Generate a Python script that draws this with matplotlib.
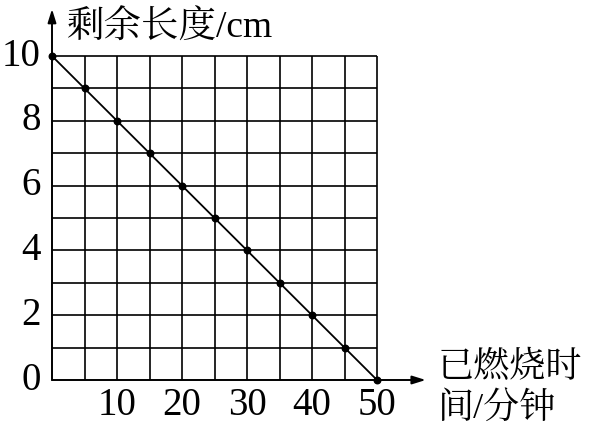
import matplotlib
matplotlib.use("Agg")
import matplotlib.pyplot as plt

# data
minutes = [0, 5, 10, 15, 20, 25, 30, 35, 40, 45, 50]
length_cm = [10, 9, 8, 7, 6, 5, 4, 3, 2, 1, 0]
x_ticks = [10, 20, 30, 40, 50]
y_ticks = [0, 2, 4, 6, 8, 10]
x_grid = [5, 10, 15, 20, 25, 30, 35, 40, 45, 50]
y_grid = [1, 2, 3, 4, 5, 6, 7, 8, 9, 10]
y_title = "剩余长度/cm"
x_title = "已燃烧时\n间/分钟"

fam = ["Liberation Serif", "Noto Serif CJK SC"]

W, H = 589, 423
fig = plt.figure(figsize=(W / 100, H / 100), dpi=100)
# pixel geometry: x=0 -> 52px, x=50 -> 377px ; y=0 -> 380px, y=10 -> 56px
px_per_min = (377 - 52) / 50
px_per_cm = (380 - 56) / 10
left_px, right_px, bottom_px, top_px = 52, 430, 380, 6
ax = fig.add_axes([left_px / W, 1 - bottom_px / H, (right_px - left_px) / W, (bottom_px - top_px) / H])
ax.set_xlim(0, (right_px - left_px) / px_per_min)
ax.set_ylim(0, (bottom_px - top_px) / px_per_cm)
ax.axis("off")

# grid
ax.vlines(x_grid, 0, 10, colors="black", linewidth=1.2)
ax.hlines(y_grid, 0, 50, colors="black", linewidth=1.2)

# axes with arrows
ax.annotate("", xy=(57.5, 0), xytext=(0, 0),
            arrowprops=dict(arrowstyle="-|>,head_length=0.8,head_width=0.25", color="black", lw=1.4,
                            shrinkA=0, shrinkB=0), annotation_clip=False)
ax.annotate("", xy=(0, 11.45), xytext=(0, 0),
            arrowprops=dict(arrowstyle="-|>,head_length=0.8,head_width=0.25", color="black", lw=1.4,
                            shrinkA=0, shrinkB=0), annotation_clip=False)

# line and points
ax.plot(minutes, length_cm, color="black", linewidth=1.3, clip_on=False)
ax.scatter(minutes, length_cm, s=22, color="black", zorder=3, clip_on=False)

# tick labels
for yt in y_ticks:
    ax.text(-1.7, yt, str(yt), ha="right", va="center", fontsize=28, family=fam)
for xt in x_ticks:
    ax.text(xt, -0.8, str(xt), ha="center", va="center", fontsize=28, family=fam)

ax.text(2.3, 10.85, y_title, ha="left", va="center", fontsize=27, family=fam)
ax.text(59.3, -0.25, x_title, ha="left", va="center", fontsize=26, family=fam, linespacing=1.3)

fig.savefig("out.png", dpi=100)
